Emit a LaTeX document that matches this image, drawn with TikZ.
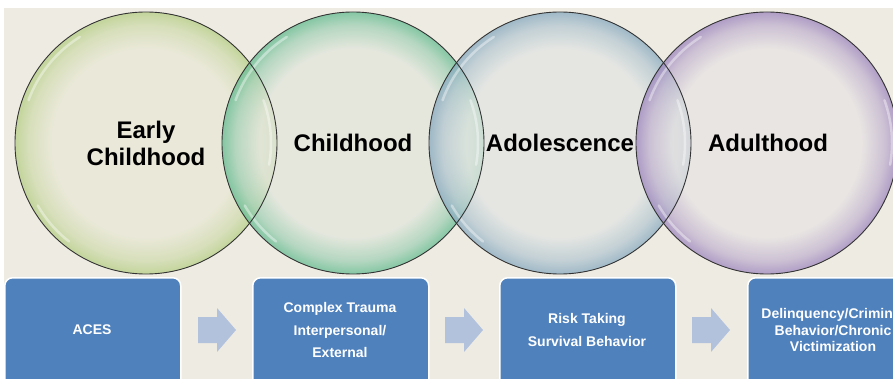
\documentclass[tikz,border=0pt]{standalone}
\usepackage{fontspec}
\setmainfont{Liberation Sans}
\definecolor{bgc}{HTML}{EEEBE2}
\definecolor{boxc}{HTML}{4F81BD}
\definecolor{arrc}{HTML}{B2C2DD}
\definecolor{inA}{HTML}{E9E8D6}
\definecolor{rimA}{HTML}{B5CE84}
\definecolor{inB}{HTML}{E2E6DC}
\definecolor{rimB}{HTML}{62BB90}
\definecolor{inC}{HTML}{E2E5E3}
\definecolor{rimC}{HTML}{86A9BF}
\definecolor{inD}{HTML}{E7E3E3}
\definecolor{rimD}{HTML}{9C84BD}
\pgfdeclareradialshading{shA}{\pgfpoint{0bp}{0bp}}{color(0bp)=(inA); color(18bp)=(inA); color(22.5bp)=(rimA!50!inA); color(25bp)=(rimA); color(50bp)=(rimA)}
\pgfdeclareradialshading{shB}{\pgfpoint{0bp}{0bp}}{color(0bp)=(inB); color(18bp)=(inB); color(22.5bp)=(rimB!50!inB); color(25bp)=(rimB); color(50bp)=(rimB)}
\pgfdeclareradialshading{shC}{\pgfpoint{0bp}{0bp}}{color(0bp)=(inC); color(18bp)=(inC); color(22.5bp)=(rimC!50!inC); color(25bp)=(rimC); color(50bp)=(rimC)}
\pgfdeclareradialshading{shD}{\pgfpoint{0bp}{0bp}}{color(0bp)=(inD); color(18bp)=(inD); color(22.5bp)=(rimD!50!inD); color(25bp)=(rimD); color(50bp)=(rimD)}
\tikzset{
  stagecircle/.style={circle, minimum size=262pt, inner sep=0pt, fill opacity=0.75},
  stageoutline/.style={draw=black!80, line width=0.9pt},
  stagelabel/.style={font=\bfseries\fontsize{24}{27}\selectfont, text=black, align=center, inner sep=0pt},
  stepbox/.style={draw=white, line width=1.5pt, fill=boxc, rounded corners=8pt, minimum width=176pt, minimum height=130pt, anchor=north west, inner sep=0pt},
  boxlabel/.style={font=\bfseries\fontsize{14}{22.5}\selectfont, text=white, align=center, inner sep=0pt},
  gloss/.style={white, opacity=0.4, line width=2.5pt, line cap=round}
}
\begin{document}
\begin{tikzpicture}[x=1pt,y=-1pt]
\useasboundingbox (0,0) rectangle (893,379);
\clip (0,0) rectangle (893,379);
\fill[white] (0,0) rectangle (893,379);
\fill[bgc] (4,8) rectangle (893,379);
% circles
\node[stagecircle, shading=shA] (c1) at (146,143) {};
\node[stagecircle, shading=shB] (c2) at (353,143) {};
\node[stagecircle, shading=shC] (c3) at (560,143) {};
\node[stagecircle, shading=shD] (c4) at (767,143) {};
\foreach \c in {c1,c2,c3,c4}{
  \draw[gloss] (\c.center) ++(200:125) arc[start angle=200, end angle=238, radius=125];
  \draw[gloss] (\c.center) ++(128:125) arc[start angle=128, end angle=150, radius=125];
  \draw[gloss] (\c.center) ++(-20:125) arc[start angle=-20, end angle=10, radius=125];
}
\foreach \c in {c1,c2,c3,c4}{
  \draw[stageoutline] (\c.center) circle[radius=131];
}
\node[stagelabel] (t1) at (146,143) {Early\\Childhood};
\node[stagelabel] (t2) at (353,143) {Childhood};
\node[stagelabel] (t3) at (560,143) {Adolescence};
\node[stagelabel] (t4) at (768,143) {Adulthood};
% boxes
\node[stepbox] (b1) at (4,277) {};
\node[stepbox] (b2) at (252,277) {};
\node[stepbox] (b3) at (499,277) {};
\node[stepbox] (b4) at (747,277) {};
\node[boxlabel] (l1) at (92,330) {ACES};
\node[boxlabel] (l2) at (340,330) {Complex Trauma\\Interpersonal/\\External};
\node[boxlabel] (l3) at (587,330) {Risk Taking\\Survival Behavior};
\node[boxlabel, font=\bfseries\fontsize{14}{16.5}\selectfont] (l4) at (833,330) {Delinquency/Criminal\\Behavior/Chronic\\Victimization};
% block arrows
\coordinate (a1) at (198,330);
\coordinate (a2) at (445,330);
\coordinate (a3) at (692,330);
\foreach \a in {a1,a2,a3}{
  \fill[arrc] (\a) ++(0,-13) -- ++(19,0) -- ++(0,-9) -- ++(19,22) -- ++(-19,22) -- ++(0,-9) -- ++(-19,0) -- cycle;
}
\end{tikzpicture}
\end{document}
